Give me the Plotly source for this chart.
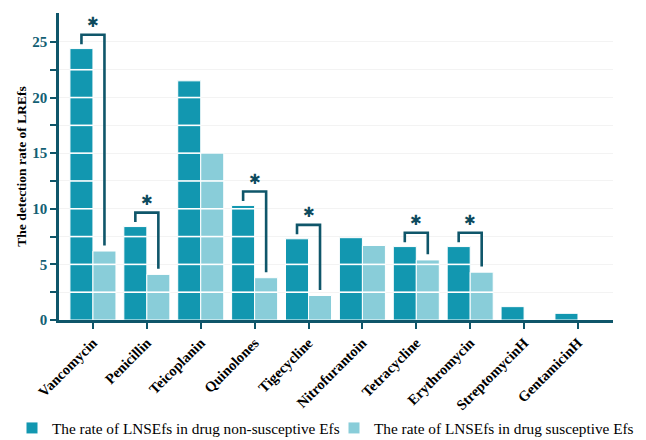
import plotly.graph_objects as go

# Antibiotics tested
drugs = ["Vancomycin", "Penicillin", "Teicoplanin", "Quinolones", "Tigecycline",
         "Nitrofurantoin", "Tetracycline", "Erythromycin", "StreptomycinH", "GentamicinH"]

# Detection rate of LREfs (%)
rate_nonsusceptive = [24.4, 8.4, 21.5, 10.3, 7.3, 7.4, 6.6, 6.6, 1.2, 0.6]
rate_susceptive = [6.2, 4.1, 15.0, 3.8, 2.2, 6.7, 5.4, 4.3, 0.0, 0.0]

# Pairs marked as significantly different
significant = [True, True, False, True, True, False, True, True, False, False]

DARK = "#1297b0"
LIGHT = "#89cdd9"
AXIS = "#0f566a"
SERIF = "Liberation Serif, Times New Roman, serif"

x = list(range(len(drugs)))
bargap = 0.146
half = (1 - bargap) / 2  # width of one bar in a pair

fig = go.Figure()
fig.add_trace(go.Bar(
    x=x, y=rate_nonsusceptive, name="The rate of LNSEfs in drug non-susceptive Efs",
    marker=dict(color=DARK, line=dict(color="white", width=1)), legend="legend",
))
fig.add_trace(go.Bar(
    x=x, y=rate_susceptive, name="The rate of LNSEfs in drug susceptive Efs",
    marker=dict(color=LIGHT, line=dict(color="white", width=1)), legend="legend2",
))

# white banding across each bar at every 2.5 units
shapes = []
step = 2.5
for i in x:
    for x0, val in ((i - half, rate_nonsusceptive[i]), (i, rate_susceptive[i])):
        lvl = step
        while lvl < val - 0.05:
            shapes.append(dict(type="line", xref="x", yref="y", x0=x0, x1=x0 + half,
                               y0=lvl, y1=lvl, layer="above",
                               line=dict(color="white", width=1.6)))
            lvl += step

# significance brackets with stars
annotations = []
for i in x:
    if not significant[i]:
        continue
    a, b = rate_nonsusceptive[i], rate_susceptive[i]
    top = max(a, b) + 1.25
    xl, xr = i - half / 2, i + half / 2
    fig.add_trace(go.Scatter(
        x=[xl, xl, xr, xr], y=[a + 0.4, top, top, b + 0.5], mode="lines",
        line=dict(color=AXIS, width=2.6), showlegend=False, hoverinfo="skip",
    ))
    annotations.append(dict(x=i, y=top, xref="x", yref="y", text="✱", showarrow=False,
                            yanchor="middle", yshift=13,
                            font=dict(family="DejaVu Sans", size=14, color="#0d4a5e")))

legend_font = dict(family=SERIF, size=15.3, color="black")
fig.update_layout(
    width=646, height=440,
    margin=dict(l=59, r=33, t=13, b=120, autoexpand=False),
    paper_bgcolor="white", plot_bgcolor="white",
    barmode="group", bargap=bargap, bargroupgap=0,
    shapes=shapes, annotations=annotations,
    font=dict(family=SERIF, color="black"),
    legend=dict(orientation="h", xref="container", yref="container",
                x=12 / 646, y=12 / 440, xanchor="left", yanchor="middle",
                font=legend_font, bgcolor="rgba(0,0,0,0)"),
    legend2=dict(orientation="h", xref="container", yref="container",
                 x=334 / 646, y=12 / 440, xanchor="left", yanchor="middle",
                 font=legend_font, bgcolor="rgba(0,0,0,0)"),
    showlegend=True,
)

fig.update_xaxes(
    range=[-0.63, 9.65], tickmode="array", tickvals=x, ticktext=drugs,
    tickangle=-45, tickfont=dict(family=SERIF, size=14.5, color="black", weight="bold"),
    showline=True, linecolor=AXIS, linewidth=2.6,
    ticks="outside", ticklen=6, tickwidth=2.4, tickcolor=AXIS,
    showgrid=False, zeroline=False, automargin=False,
)
fig.update_yaxes(
    range=[0, 27.6], tickvals=[0, 5, 10, 15, 20, 25],
    tickfont=dict(family=SERIF, size=15, color="#135f74", weight="bold"),
    showline=True, linecolor=AXIS, linewidth=2.6,
    ticks="outside", ticklen=6, tickwidth=2.4, tickcolor=AXIS,
    minor=dict(tickvals=[2.5, 7.5, 12.5, 17.5, 22.5], ticks="outside", ticklen=6,
               tickwidth=2, tickcolor=AXIS, showgrid=True, gridcolor="#f3f3f3", gridwidth=1),
    showgrid=True, gridcolor="#f3f3f3", gridwidth=1, zeroline=False, automargin=False,
    title=dict(text="The detection rate of LREfs", standoff=3,
               font=dict(family=SERIF, size=13.5, color="black", weight="bold")),
)

fig.write_html("out.html")
